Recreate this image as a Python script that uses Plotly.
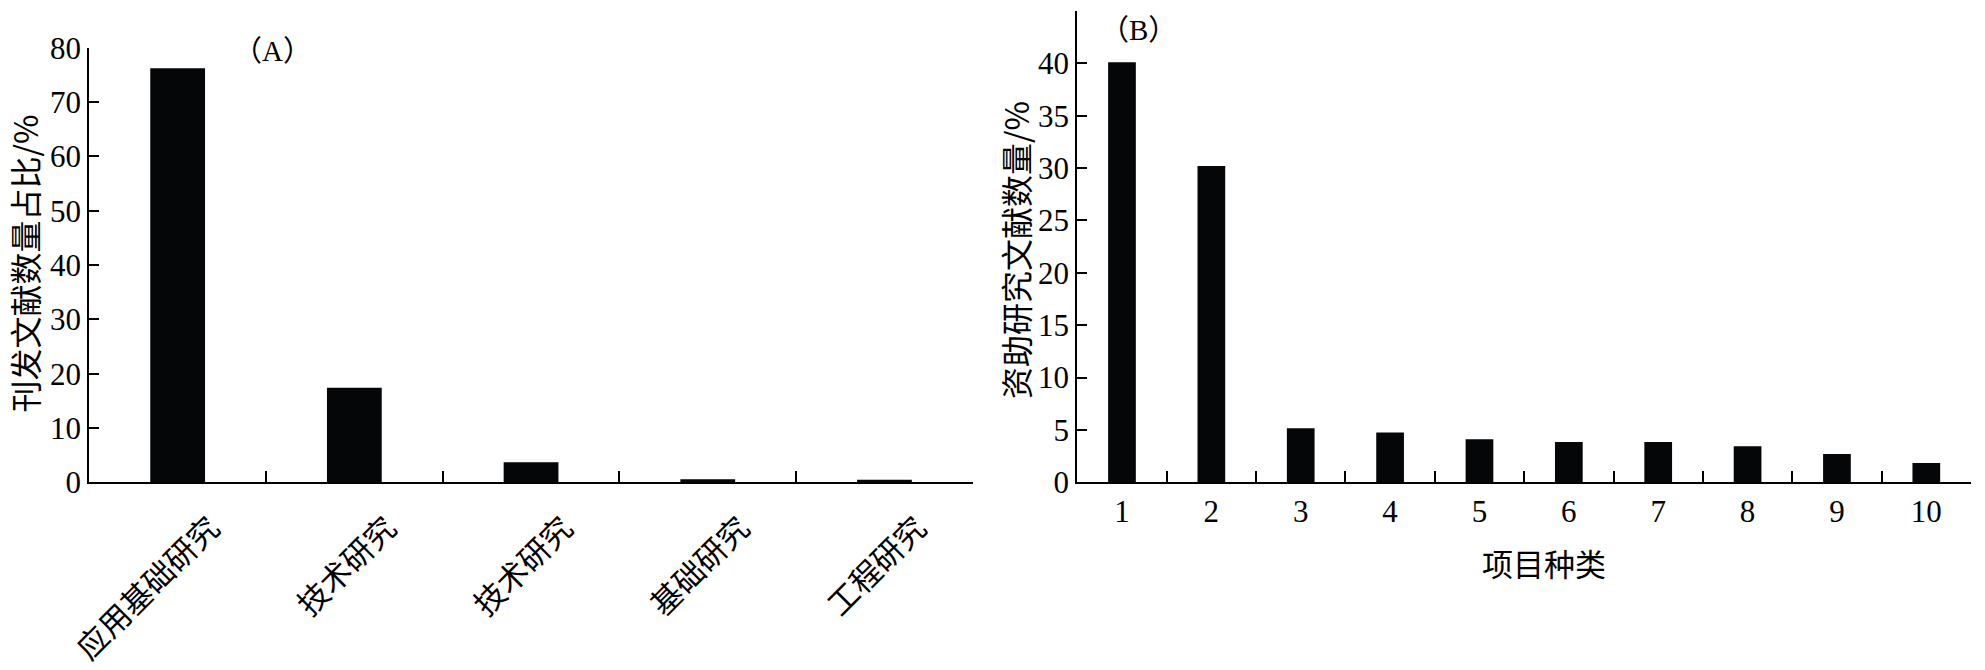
import plotly.graph_objects as go

# ---- data ----
categories_a = ["应用基础研究", "技术研究", "技术研究", "基础研究", "工程研究"]
values_a = [76.2, 17.4, 3.7, 0.55, 0.45]

categories_b = ["1", "2", "3", "4", "5", "6", "7", "8", "9", "10"]
values_b = [40.1, 30.2, 5.15, 4.75, 4.1, 3.85, 3.85, 3.45, 2.7, 1.85]

ytitle_a = "刊发文献数量占比/%"
ytitle_b = "资助研究文献数量/%"
xtitle_b = "项目种类"

W, H = 1985, 670
FONT = "Liberation Serif, Noto Sans CJK SC, serif"
CJK = "Noto Sans CJK SC, sans-serif"
BAR_COLOR = "#050608"

keys_a = ["a%d" % i for i in range(len(categories_a))]


def px(x):
    return x / W


def py(y):
    return (H - y) / H


fig = go.Figure()
fig.add_trace(go.Bar(x=keys_a, y=values_a, marker=dict(color=BAR_COLOR, line=dict(width=0)),
                     xaxis="x", yaxis="y", showlegend=False))
fig.add_trace(go.Bar(x=categories_b, y=values_b, marker=dict(color=BAR_COLOR, line=dict(width=0)),
                     xaxis="x2", yaxis="y2", showlegend=False))

common_axis = dict(showline=True, linecolor="black", linewidth=2, showgrid=False, zeroline=False,
                   ticks="inside", tickcolor="black", tickwidth=2, automargin=False)

fig.update_layout(
    width=W, height=H,
    margin=dict(l=0, r=0, t=0, b=0),
    paper_bgcolor="white", plot_bgcolor="white",
    bargap=0.69,
    font=dict(family=FONT, color="black", size=31),
    xaxis=dict(domain=[px(89.3), px(972.8)], anchor="y", type="category",
               tickmode="array", tickvals=keys_a, ticktext=categories_a,
               tickson="boundaries", ticklen=11, tickangle=-45,
               ticklabelshift=33, ticklabelstandoff=13,
               tickfont=dict(family=CJK, size=31), **common_axis),
    yaxis=dict(domain=[py(482.3), py(47.7)], anchor="x", range=[0, 80], dtick=10,
               ticklen=10, tickfont=dict(family=FONT, size=31), **common_axis),
    xaxis2=dict(domain=[px(1077.3), px(1971)], anchor="y2", type="category",
                tickson="boundaries", ticklen=11, ticklabelstandoff=0,
                tickfont=dict(family=FONT, size=31), **common_axis),
    yaxis2=dict(domain=[py(482.3), py(11)], anchor="x2", range=[0, 45], dtick=5,
                ticklen=10, tickfont=dict(family=FONT, size=31), **common_axis),
    annotations=[
        dict(text="（A）", x=px(272.5), y=py(51), xref="paper", yref="paper", showarrow=False,
             font=dict(family=FONT, size=29), xanchor="center", yanchor="middle"),
        dict(text="（B）", x=px(1138.5), y=py(30), xref="paper", yref="paper", showarrow=False,
             font=dict(family=FONT, size=29), xanchor="center", yanchor="middle"),
        dict(text=ytitle_a, x=px(23.5), y=py(264), xref="paper", yref="paper", showarrow=False,
             textangle=-90, font=dict(family=CJK, size=32), xanchor="center", yanchor="middle"),
        dict(text=ytitle_b, x=px(1015), y=py(250), xref="paper", yref="paper", showarrow=False,
             textangle=-90, font=dict(family=CJK, size=32), xanchor="center", yanchor="middle"),
        dict(text=xtitle_b, x=px(1544), y=py(562.5), xref="paper", yref="paper", showarrow=False,
             font=dict(family=CJK, size=31), xanchor="center", yanchor="middle"),
    ],
)

fig.write_html("out.html", config={"displayModeBar": False},
               post_script="document.body.style.margin='0';document.body.style.overflow='hidden';")
